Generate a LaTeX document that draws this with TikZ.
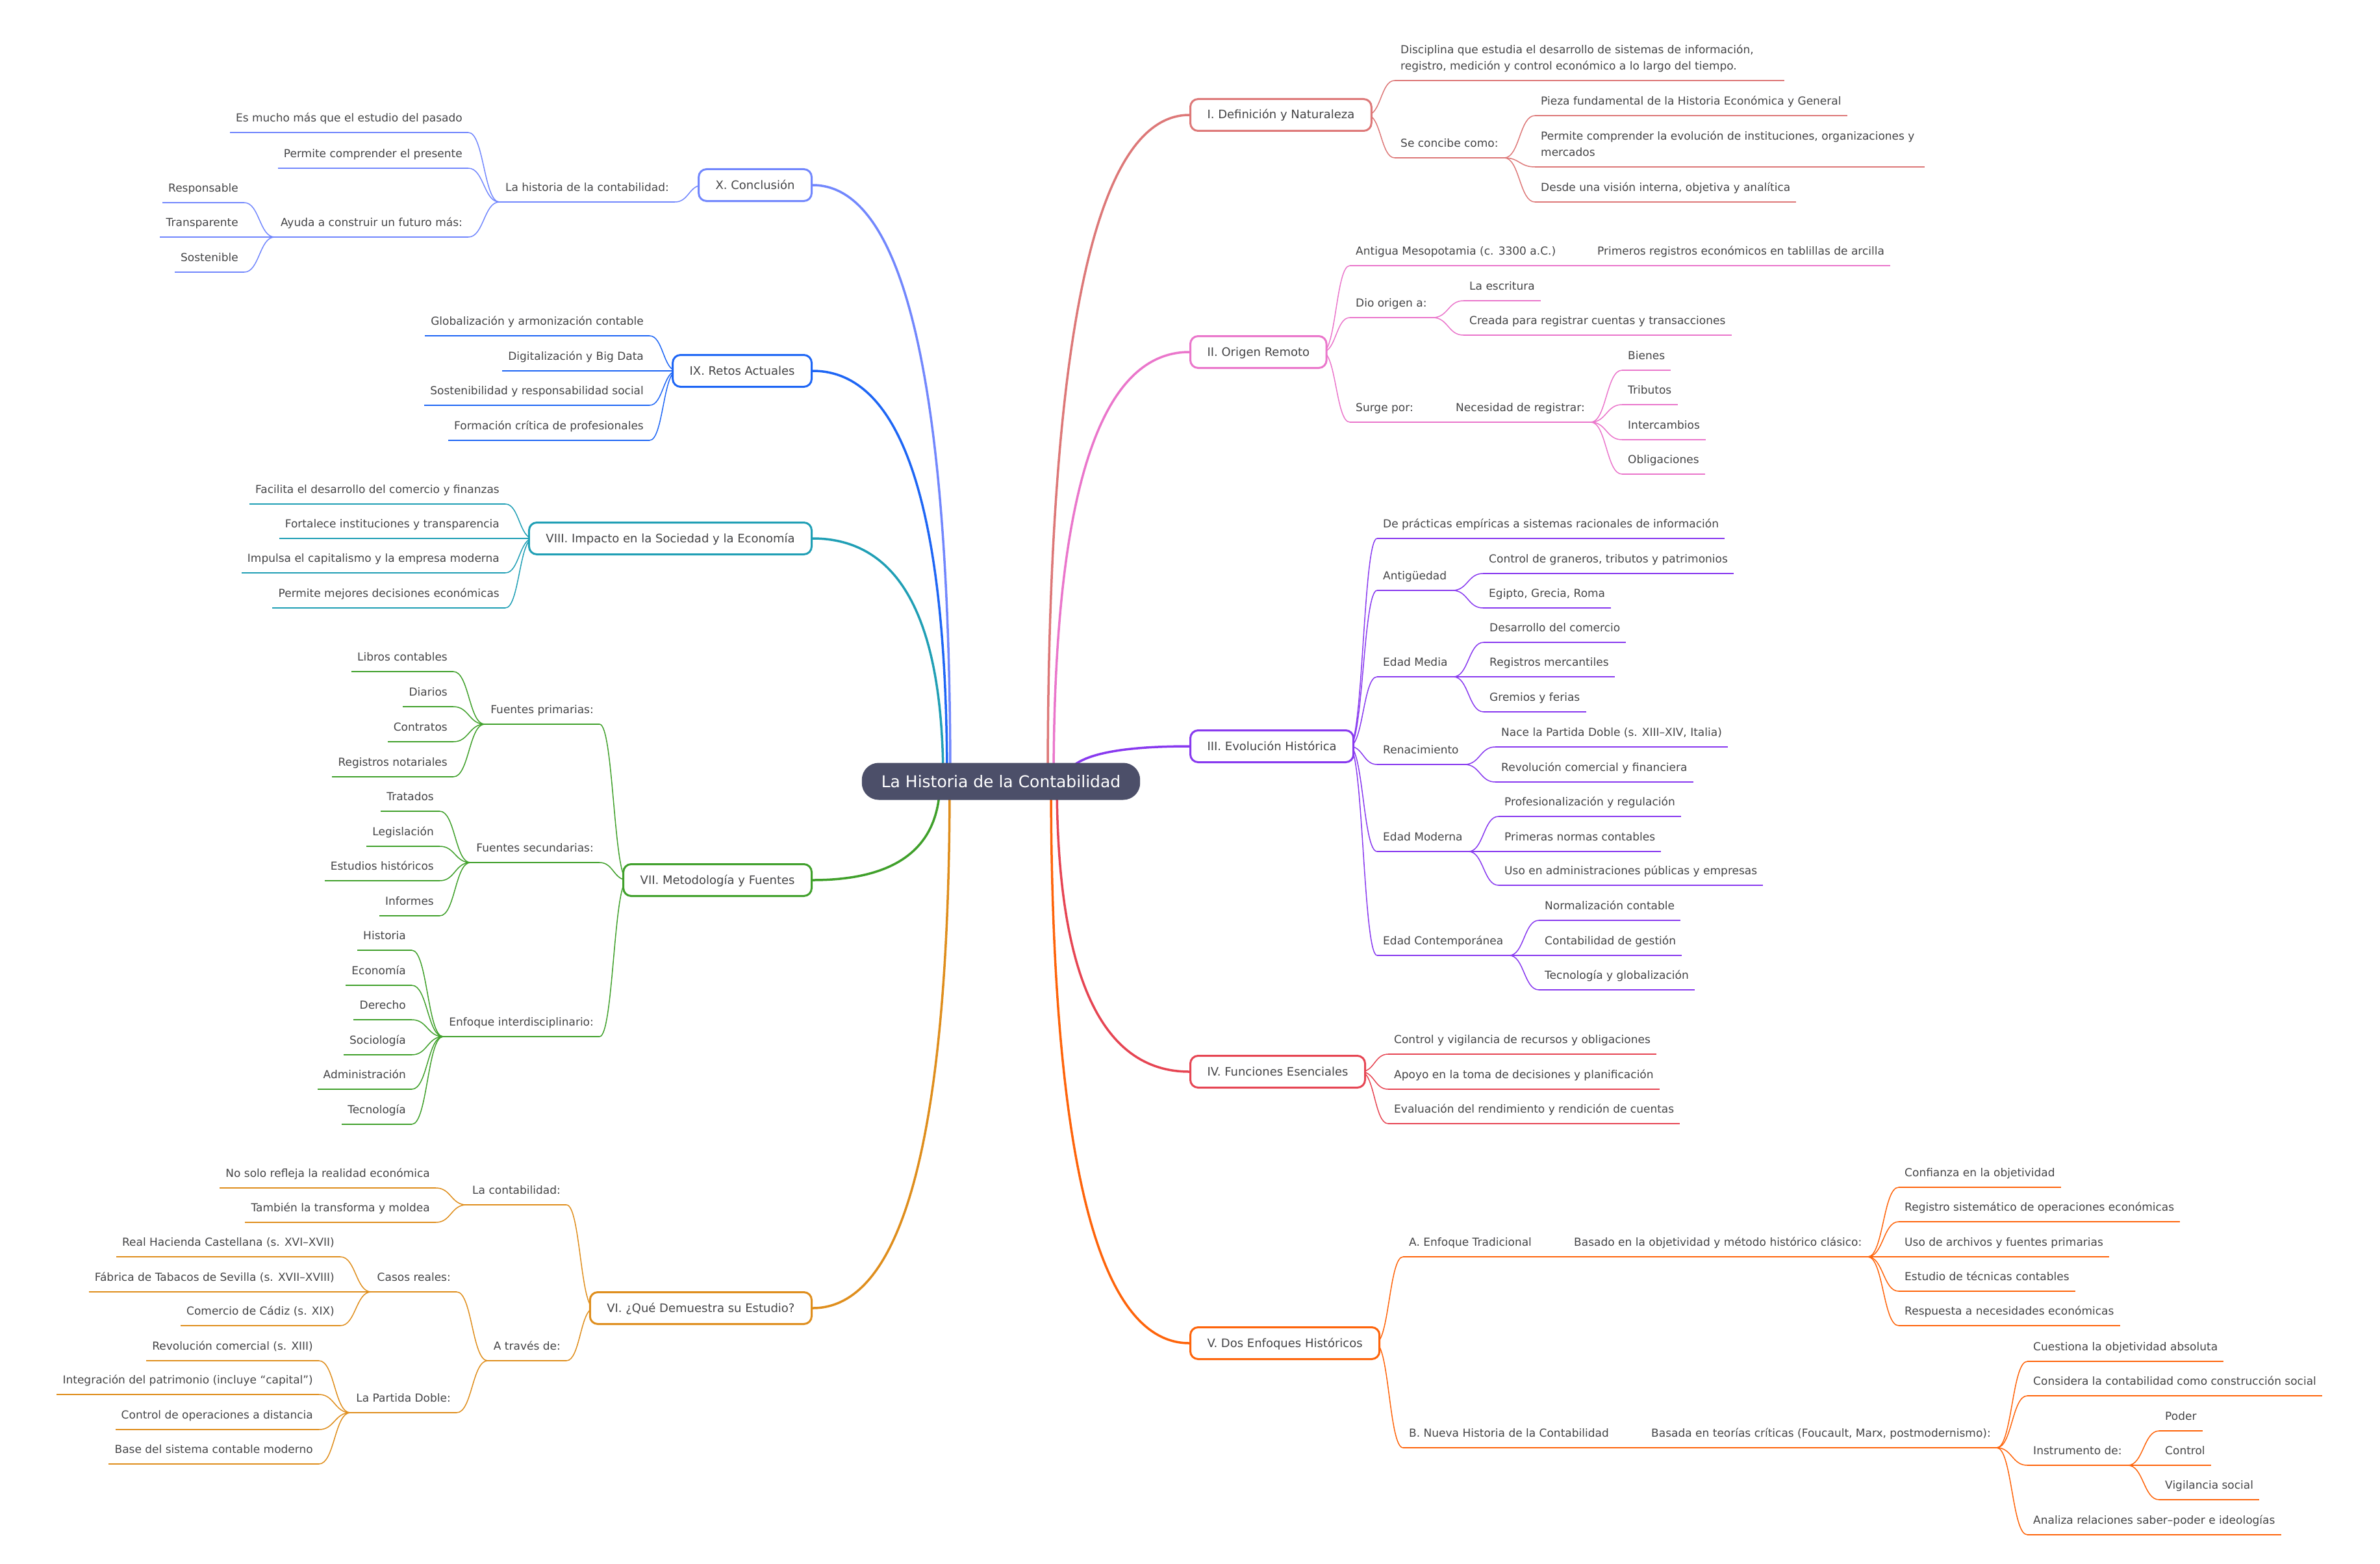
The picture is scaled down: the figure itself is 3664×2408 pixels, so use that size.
\documentclass[tikz,border=0pt]{standalone}
\usepackage{fontspec}
\setmainfont{DejaVu Sans}
\usetikzlibrary{calc,backgrounds}

\definecolor{ink}{HTML}{444446}
\definecolor{rootc}{HTML}{4C4F69}
\definecolor{flamingo}{HTML}{DD7878}
\definecolor{pink}{HTML}{EA76CB}
\definecolor{mauve}{HTML}{8839EF}
\definecolor{maroon}{HTML}{E64553}
\definecolor{peach}{HTML}{FE640B}
\definecolor{yellow}{HTML}{DF8E1D}
\definecolor{green}{HTML}{40A02B}
\definecolor{sapphire}{HTML}{209FB5}
\definecolor{blue}{HTML}{1E66F5}
\definecolor{lavender}{HTML}{7287FD}
\colorlet{brc}{ink}

\begin{document}
\begin{tikzpicture}
        [%%%%%%%%%%%%%%%%%%%%%%%%%%%%%%
        x=1pt, y=-1pt,
        root/.style={rectangle, rounded corners=26pt, fill=rootc, text=white,
          font=\fontsize{25}{30}\selectfont, minimum height=57pt, inner xsep=30pt,
          text height=19pt, text depth=1pt},
        box/.style={rectangle, rounded corners=12pt, draw=brc, line width=3pt, fill=white,
          text=ink, font=\fontsize{18}{22}\selectfont, minimum height=49pt, inner xsep=26pt,
          text height=13pt, text depth=1pt},
        leaf/.style={text=ink, font=\fontsize{17}{25}\selectfont, inner xsep=9pt,
          inner ysep=12pt, text depth=4pt},
        leafr/.style={leaf, anchor=south west, align=left},
        leafl/.style={leaf, anchor=south east, align=right},
        uline/.style={draw=brc, line width=2pt},
        lnk/.style={draw=brc, line width=1.5pt, to path={let \p1=(\tikztostart), \p2=(\tikztotarget) in
          .. controls ({(\x1+\x2)/2},\y1) and ({(\x1+\x2)/2},\y2) .. (\tikztotarget)}},
        mainlnk/.style={draw=brc, line width=3.5pt, to path={let \p1=(\tikztostart), \p2=(\tikztotarget) in
          .. controls (\x1,{\y1+2/3*(\y2-\y1)}) and ({\x2+2/3*(\x1-\x2)},\y2) .. (\tikztotarget)}},
        ]%%%%%%%%%%%%%%%%%%%%%%%%%%%%%%

        \useasboundingbox (0,0) rectangle (3664,2408);

        \node[root] (root) at (1541,1203) {La Historia de la Contabilidad};

        % I. Definicion
        \begin{scope}
          \colorlet{brc}{flamingo}
          \node[box, anchor=west] (bI) at (1831,177) {I. Definición y Naturaleza};
          \coordinate (hI) at ([xshift=-8pt]bI.east);
          \node[leafr] (i1) at (2147,124) {Disciplina que estudia el desarrollo de sistemas de información,\\registro, medición y control económico a lo largo del tiempo.};
          \node[leafr] (i2) at (2147,243) {Se concibe como:};
          \node[leafr] (i21) at (2363,178) {Pieza fundamental de la Historia Económica y General};
          \node[leafr] (i22) at (2363,257) {Permite comprender la evolución de instituciones, organizaciones y\\mercados};
          \node[leafr] (i23) at (2363,311) {Desde una visión interna, objetiva y analítica};
          \foreach \dst in {i2,i21,i23}
            \draw[uline] (\dst.south west) -- (\dst.south east);
          % wide two-line items
          \draw[uline] (i1.south west) -- ++(600,0);
          \draw[uline] (i22.south west) -- ++(600,0);
          \begin{scope}[on background layer]
            \coordinate (sI) at (1613,1203);
            \draw[mainlnk] (sI) to (bI.west);
            \foreach \dst in {i1,i2}
              \draw[lnk] (hI) to (\dst.south west);
            \foreach \dst in {i21,i22,i23}
              \draw[lnk] (i2.south east) to (\dst.south west);
          \end{scope}
        \end{scope}

        % II. Origen
        \begin{scope}
          \colorlet{brc}{pink}
          \node[box, anchor=west] (bII) at (1831,542) {II. Origen Remoto};
          \coordinate (hII) at ([xshift=-8pt]bII.east);
          \node[leafr] (o1) at (2078,409) {Antigua Mesopotamia (c. 3300 a.C.)};
          \node[leafr] (o11) at (2450,409) {Primeros registros económicos en tablillas de arcilla};
          \node[leafr] (o2) at (2078,489) {Dio origen a:};
          \node[leafr] (o21) at (2253,463) {La escritura};
          \node[leafr] (o22) at (2253,516) {Creada para registrar cuentas y transacciones};
          \node[leafr] (o3) at (2078,650) {Surge por:};
          \node[leafr] (o31) at (2232,650) {Necesidad de registrar:};
          \node[leafr] (o311) at (2497,570) {Bienes};
          \node[leafr] (o312) at (2497,623) {Tributos};
          \node[leafr] (o313) at (2497,677) {Intercambios};
          \node[leafr] (o314) at (2497,730) {Obligaciones};
          \foreach \dst in {o1,o11,o2,o21,o22,o3,o31,o311,o312,o313,o314}
            \draw[uline] (\dst.south west) -- (\dst.south east);
          \begin{scope}[on background layer]
            \coordinate (sII) at (1622,1203);
            \draw[mainlnk] (sII) to (bII.west);
            \foreach \dst in {o1,o2,o3}
              \draw[lnk] (hII) to (\dst.south west);
            \foreach \src/\dst in {o1/o11,o2/o21,o2/o22,o3/o31,o31/o311,o31/o312,o31/o313,o31/o314}
              \draw[lnk] (\src.south east) to (\dst.south west);
          \end{scope}
        \end{scope}

        % III. Evolucion
        \begin{scope}
          \colorlet{brc}{mauve}
          \node[box, anchor=west] (bIII) at (1831,1149) {III. Evolución Histórica};
          \coordinate (hIII) at ([xshift=-8pt]bIII.east);
          \node[leafr] (e1) at (2120,829) {De prácticas empíricas a sistemas racionales de información};
          \node[leafr] (e2) at (2120,909) {Antigüedad};
          \node[leafr] (e21) at (2283,883) {Control de graneros, tributos y patrimonios};
          \node[leafr] (e22) at (2283,936) {Egipto, Grecia, Roma};
          \node[leafr] (e3) at (2120,1042) {Edad Media};
          \node[leafr] (e31) at (2284,989) {Desarrollo del comercio};
          \node[leafr] (e32) at (2284,1042) {Registros mercantiles};
          \node[leafr] (e33) at (2284,1096) {Gremios y ferias};
          \node[leafr] (e4) at (2120,1177) {Renacimiento};
          \node[leafr] (e41) at (2302,1150) {Nace la Partida Doble (s. XIII–XIV, Italia)};
          \node[leafr] (e42) at (2302,1204) {Revolución comercial y financiera};
          \node[leafr] (e5) at (2120,1311) {Edad Moderna};
          \node[leafr] (e51) at (2307,1257) {Profesionalización y regulación};
          \node[leafr] (e52) at (2307,1311) {Primeras normas contables};
          \node[leafr] (e53) at (2307,1363) {Uso en administraciones públicas y empresas};
          \node[leafr] (e6) at (2120,1471) {Edad Contemporánea};
          \node[leafr] (e61) at (2369,1417) {Normalización contable};
          \node[leafr] (e62) at (2369,1471) {Contabilidad de gestión};
          \node[leafr] (e63) at (2369,1524) {Tecnología y globalización};
          \foreach \dst in {e1,e2,e21,e22,e3,e31,e32,e33,e4,e41,e42,e5,e51,e52,e53,e6,e61,e62,e63}
            \draw[uline] (\dst.south west) -- (\dst.south east);
          \begin{scope}[on background layer]
            \coordinate (sIII) at (1640,1203);
            \draw[mainlnk] (sIII) to (bIII.west);
            \foreach \dst in {e1,e2,e3,e4,e5,e6}
              \draw[lnk] (hIII) to (\dst.south west);
            \foreach \src/\dst in {e2/e21,e2/e22,e3/e31,e3/e32,e3/e33,e4/e41,e4/e42,e5/e51,e5/e52,e5/e53,e6/e61,e6/e62,e6/e63}
              \draw[lnk] (\src.south east) to (\dst.south west);
          \end{scope}
        \end{scope}

        % IV. Funciones
        \begin{scope}
          \colorlet{brc}{maroon}
          \node[box, anchor=west] (bIV) at (1831,1650) {IV. Funciones Esenciales};
          \coordinate (hIV) at ([xshift=-8pt]bIV.east);
          \node[leafr] (f1) at (2137,1623) {Control y vigilancia de recursos y obligaciones};
          \node[leafr] (f2) at (2137,1677) {Apoyo en la toma de decisiones y planificación};
          \node[leafr] (f3) at (2137,1730) {Evaluación del rendimiento y rendición de cuentas};
          \foreach \dst in {f1,f2,f3}
            \draw[uline] (\dst.south west) -- (\dst.south east);
          \begin{scope}[on background layer]
            \coordinate (sIV) at (1627,1203);
            \draw[mainlnk] (sIV) to (bIV.west);
            \foreach \dst in {f1,f2,f3}
              \draw[lnk] (hIV) to (\dst.south west);
          \end{scope}
        \end{scope}

        % V. Dos enfoques
        \begin{scope}
          \colorlet{brc}{peach}
          \node[box, anchor=west] (bV) at (1831,2068) {V. Dos Enfoques Históricos};
          \coordinate (hV) at ([xshift=-8pt]bV.east);
          \node[leafr] (d1) at (2160,1935) {A. Enfoque Tradicional};
          \node[leafr] (d11) at (2414,1935) {Basado en la objetividad y método histórico clásico:};
          \node[leafr] (d111) at (2923,1828) {Confianza en la objetividad};
          \node[leafr] (d112) at (2923,1881) {Registro sistemático de operaciones económicas};
          \node[leafr] (d113) at (2923,1935) {Uso de archivos y fuentes primarias};
          \node[leafr] (d114) at (2923,1988) {Estudio de técnicas contables};
          \node[leafr] (d115) at (2923,2041) {Respuesta a necesidades económicas};
          \node[leafr] (d2) at (2160,2229) {B. Nueva Historia de la Contabilidad};
          \node[leafr] (d21) at (2533,2229) {Basada en teorías críticas (Foucault, Marx, postmodernismo):};
          \node[leafr] (d211) at (3121,2096) {Cuestiona la objetividad absoluta};
          \node[leafr] (d212) at (3121,2149) {Considera la contabilidad como construcción social};
          \node[leafr] (d213) at (3121,2256) {Instrumento de:};
          \node[leafr] (d2131) at (3324,2203) {Poder};
          \node[leafr] (d2132) at (3324,2256) {Control};
          \node[leafr] (d2133) at (3324,2309) {Vigilancia social};
          \node[leafr] (d214) at (3121,2363) {Analiza relaciones saber–poder e ideologías};
          \foreach \dst in {d1,d11,d111,d112,d113,d114,d115,d2,d21,d211,d212,d213,d2131,d2132,d2133,d214}
            \draw[uline] (\dst.south west) -- (\dst.south east);
          \begin{scope}[on background layer]
            \coordinate (sV) at (1618,1203);
            \draw[mainlnk] (sV) to (bV.west);
            \foreach \dst in {d1,d2}
              \draw[lnk] (hV) to (\dst.south west);
            \foreach \src/\dst in {d1/d11,d11/d111,d11/d112,d11/d113,d11/d114,d11/d115,d2/d21,d21/d211,d21/d212,d21/d213,d21/d214,d213/d2131,d213/d2132,d213/d2133}
              \draw[lnk] (\src.south east) to (\dst.south west);
          \end{scope}
        \end{scope}

        % VI. Que demuestra
        \begin{scope}
          \colorlet{brc}{yellow}
          \node[box, anchor=east] (bVI) at (1251,2014) {VI. ¿Qué Demuestra su Estudio?};
          \coordinate (hVI) at ([xshift=8pt]bVI.west);
          \node[leafl] (q1) at (872,1855) {La contabilidad:};
          \node[leafl] (q11) at (671,1829) {No solo refleja la realidad económica};
          \node[leafl] (q12) at (671,1882) {También la transforma y moldea};
          \node[leafl] (q2) at (872,2095) {A través de:};
          \node[leafl] (q21) at (703,1989) {Casos reales:};
          \node[leafl] (q211) at (524,1935) {Real Hacienda Castellana (s. XVI–XVII)};
          \node[leafl] (q212) at (524,1989) {Fábrica de Tabacos de Sevilla (s. XVII–XVIII)};
          \node[leafl] (q213) at (524,2041) {Comercio de Cádiz (s. XIX)};
          \node[leafl] (q22) at (703,2175) {La Partida Doble:};
          \node[leafl] (q221) at (491,2095) {Revolución comercial (s. XIII)};
          \node[leafl] (q222) at (491,2147) {Integración del patrimonio (incluye “capital”)};
          \node[leafl] (q223) at (491,2201) {Control de operaciones a distancia};
          \node[leafl] (q224) at (491,2254) {Base del sistema contable moderno};
          \foreach \dst in {q1,q11,q12,q2,q21,q211,q212,q213,q22,q221,q222,q223,q224}
            \draw[uline] (\dst.south west) -- (\dst.south east);
          \begin{scope}[on background layer]
            \coordinate (sVI) at (1462,1203);
            \draw[mainlnk] (sVI) to (bVI.east);
            \foreach \dst in {q1,q2}
              \draw[lnk] (hVI) to (\dst.south east);
            \foreach \src/\dst in {q1/q11,q1/q12,q2/q21,q2/q22,q21/q211,q21/q212,q21/q213,q22/q221,q22/q222,q22/q223,q22/q224}
              \draw[lnk] (\src.south west) to (\dst.south east);
          \end{scope}
        \end{scope}

        % VII. Metodologia
        \begin{scope}
          \colorlet{brc}{green}
          \node[box, anchor=east] (bVII) at (1251,1355) {VII. Metodología y Fuentes};
          \coordinate (hVII) at ([xshift=8pt]bVII.west);
          \node[leafl] (m1) at (923,1115) {Fuentes primarias:};
          \node[leafl] (m11) at (698,1034) {Libros contables};
          \node[leafl] (m12) at (698,1088) {Diarios};
          \node[leafl] (m13) at (698,1142) {Contratos};
          \node[leafl] (m14) at (698,1196) {Registros notariales};
          \node[leafl] (m2) at (923,1328) {Fuentes secundarias:};
          \node[leafl] (m21) at (677,1249) {Tratados};
          \node[leafl] (m22) at (677,1303) {Legislación};
          \node[leafl] (m23) at (677,1356) {Estudios históricos};
          \node[leafl] (m24) at (677,1410) {Informes};
          \node[leafl] (m3) at (923,1596) {Enfoque interdisciplinario:};
          \node[leafl] (m31) at (634,1463) {Historia};
          \node[leafl] (m32) at (634,1517) {Economía};
          \node[leafl] (m33) at (634,1570) {Derecho};
          \node[leafl] (m34) at (634,1624) {Sociología};
          \node[leafl] (m35) at (634,1677) {Administración};
          \node[leafl] (m36) at (634,1731) {Tecnología};
          \foreach \dst in {m1,m11,m12,m13,m14,m2,m21,m22,m23,m24,m3,m31,m32,m33,m34,m35,m36}
            \draw[uline] (\dst.south west) -- (\dst.south east);
          \begin{scope}[on background layer]
            \coordinate (sVII) at (1447,1203);
            \draw[mainlnk] (sVII) to (bVII.east);
            \foreach \dst in {m1,m2,m3}
              \draw[lnk] (hVII) to (\dst.south east);
            \foreach \src/\dst in {m1/m11,m1/m12,m1/m13,m1/m14,m2/m21,m2/m22,m2/m23,m2/m24,m3/m31,m3/m32,m3/m33,m3/m34,m3/m35,m3/m36}
              \draw[lnk] (\src.south west) to (\dst.south east);
          \end{scope}
        \end{scope}

        % VIII. Impacto
        \begin{scope}
          \colorlet{brc}{sapphire}
          \node[box, anchor=east] (bVIII) at (1251,829) {VIII. Impacto en la Sociedad y la Economía};
          \coordinate (hVIII) at ([xshift=8pt]bVIII.west);
          \node[leafl] (s1) at (778,776) {Facilita el desarrollo del comercio y finanzas};
          \node[leafl] (s2) at (778,829) {Fortalece instituciones y transparencia};
          \node[leafl] (s3) at (778,882) {Impulsa el capitalismo y la empresa moderna};
          \node[leafl] (s4) at (778,936) {Permite mejores decisiones económicas};
          \foreach \dst in {s1,s2,s3,s4}
            \draw[uline] (\dst.south west) -- (\dst.south east);
          \begin{scope}[on background layer]
            \coordinate (sVIII) at (1452,1203);
            \draw[mainlnk] (sVIII) to (bVIII.east);
            \foreach \dst in {s1,s2,s3,s4}
              \draw[lnk] (hVIII) to (\dst.south east);
          \end{scope}
        \end{scope}

        % IX. Retos
        \begin{scope}
          \colorlet{brc}{blue}
          \node[box, anchor=east] (bIX) at (1251,571) {IX. Retos Actuales};
          \coordinate (hIX) at ([xshift=8pt]bIX.west);
          \node[leafl] (r1) at (1000,517) {Globalización y armonización contable};
          \node[leafl] (r2) at (1000,571) {Digitalización y Big Data};
          \node[leafl] (r3) at (1000,624) {Sostenibilidad y responsabilidad social};
          \node[leafl] (r4) at (1000,678) {Formación crítica de profesionales};
          \foreach \dst in {r1,r2,r3,r4}
            \draw[uline] (\dst.south west) -- (\dst.south east);
          \begin{scope}[on background layer]
            \coordinate (sIX) at (1458,1203);
            \draw[mainlnk] (sIX) to (bIX.east);
            \foreach \dst in {r1,r2,r3,r4}
              \draw[lnk] (hIX) to (\dst.south east);
          \end{scope}
        \end{scope}

        % X. Conclusion
        \begin{scope}
          \colorlet{brc}{lavender}
          \node[box, anchor=east] (bX) at (1251,285) {X. Conclusión};
          \coordinate (hX) at ([xshift=8pt]bX.west);
          \node[leafl] (c1) at (1039,311) {La historia de la contabilidad:};
          \node[leafl] (c11) at (721,204) {Es mucho más que el estudio del pasado};
          \node[leafl] (c12) at (721,259) {Permite comprender el presente};
          \node[leafl] (c13) at (721,365) {Ayuda a construir un futuro más:};
          \node[leafl] (c131) at (376,312) {Responsable};
          \node[leafl] (c132) at (376,365) {Transparente};
          \node[leafl] (c133) at (376,419) {Sostenible};
          \foreach \dst in {c1,c11,c12,c13,c131,c132,c133}
            \draw[uline] (\dst.south west) -- (\dst.south east);
          \begin{scope}[on background layer]
            \coordinate (sX) at (1463,1203);
            \draw[mainlnk] (sX) to (bX.east);
            \draw[lnk] (hX) to (c1.south east);
            \foreach \src/\dst in {c1/c11,c1/c12,c1/c13,c13/c131,c13/c132,c13/c133}
              \draw[lnk] (\src.south west) to (\dst.south east);
          \end{scope}
        \end{scope}

      \end{tikzpicture}
\end{document}
